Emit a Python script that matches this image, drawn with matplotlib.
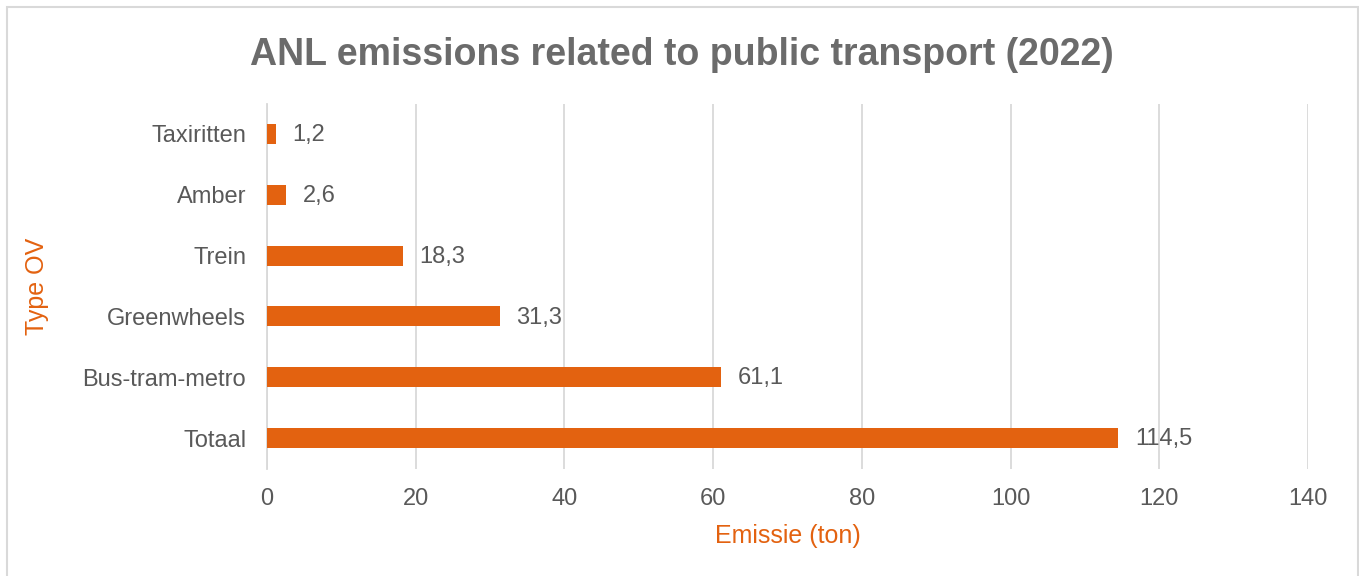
import matplotlib
matplotlib.use("Agg")
import matplotlib.pyplot as plt
from matplotlib.patches import Rectangle

# data (bottom to top)
categories = ["Totaal", "Bus-tram-metro", "Greenwheels", "Trein", "Amber", "Taxiritten"]
values = [114.5, 61.1, 31.3, 18.3, 2.6, 1.2]
value_labels = ["114,5", "61,1", "31,3", "18,3", "2,6", "1,2"]

orange = "#E36210"
grey_text = "#595959"
grid_grey = "#D9D9D9"

plt.rcParams['font.family'] = ['Liberation Sans', 'DejaVu Sans']

fig = plt.figure(figsize=(13.59, 5.76), dpi=100)
ax = fig.add_axes([0.1965, 0.1866, 0.9625 - 0.1965, 0.8203 - 0.1866])

# outer chart border
fig.patches.append(Rectangle((7 / 1359, -0.05), 1351 / 1359, 1.05 - 7 / 576,
                             transform=fig.transFigure, fill=False,
                             edgecolor=grid_grey, linewidth=1.5))

y = range(len(categories))
ax.barh(y, values, height=0.33, color=orange, zorder=3)
for i, v in enumerate(values):
    ax.text(v + 2.2, i - 0.02, value_labels[i], va='center', ha='left',
            fontsize=17, color=grey_text)

ax.set_xlim(0, 140)
ax.set_ylim(-0.5, len(categories) - 0.5)
ax.set_xticks(range(0, 141, 20))
ax.set_yticks(list(y))
ax.set_yticklabels(categories)
ax.tick_params(axis='both', length=0, labelsize=17, colors=grey_text)
ax.tick_params(axis='x', pad=14)
ax.tick_params(axis='y', pad=15)
ax.grid(axis='x', color=grid_grey, linewidth=1.3, zorder=0)

for s in ['top', 'right', 'bottom']:
    ax.spines[s].set_visible(False)
ax.spines['left'].set_color(grid_grey)
ax.spines['left'].set_linewidth(1.3)

ax.set_xlabel("Emissie (ton)", fontsize=18, color=orange, labelpad=10)
ax.set_ylabel("Type OV", fontsize=18, color=orange, labelpad=24)

fig.text(0.502, 0.905, "ANL emissions related to public transport (2022)",
         ha='center', va='center', fontsize=27, fontweight='bold', color="#6B6B6B")

fig.savefig("out.png", dpi=100)
